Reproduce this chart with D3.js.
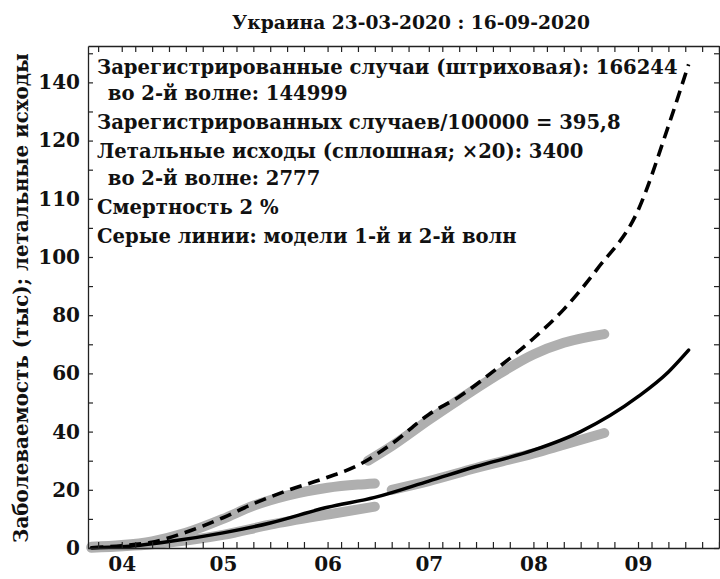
<!DOCTYPE html>
<html><head><meta charset="utf-8">
<script src="https://cdn.jsdelivr.net/npm/d3@7"></script>
<style>
body{margin:0;background:#fff}
svg{display:block}
text{font-family:"DejaVu Serif",serif;font-weight:bold;fill:#111}
</style>
</head><body><svg id="c" width="720" height="579"></svg>
<script>
const title = "Украина 23-03-2020 : 16-09-2020";
const yAxisTitle = "Заболеваемость (тыс); летальные исходы";
const legendLines = [
  "Зарегистрированные случаи (штриховая): 166244",
  " во 2-й волне: 144999",
  "Зарегистрированных случаев/100000 = 395,8",
  "Летальные исходы (сплошная; ×20): 3400",
  " во 2-й волне: 2777",
  "Смертность 2 %",
  "Серые линии: модели 1-й и 2-й волн"
];
const legendIndent = [0, 1, 0, 0, 1, 0, 0];
const yTickValues = [0, 20, 40, 60, 80, 100, 120, 140, 160];
const yTickLabels = ["0", "20", "40", "60", "80", "100", "110", "120", "140"];
const monthStarts = ["2020-04-01", "2020-05-01", "2020-06-01", "2020-07-01", "2020-08-01", "2020-09-01"];
const monthLabels = ["04", "05", "06", "07", "08", "09"];

// registered cases, thousands (dashed)
const casesDates = ["2020-03-23","2020-04-01","2020-04-10","2020-04-20","2020-05-01","2020-05-10","2020-05-20","2020-06-01","2020-06-10","2020-06-20","2020-07-01","2020-07-10","2020-07-20","2020-08-01","2020-08-10","2020-08-20","2020-09-01","2020-09-10","2020-09-16"];
const casesValues = [0.1, 0.8, 2.0, 5.4, 10.4, 15.2, 19.7, 24.3, 28.4, 35.8, 45.9, 52.0, 60.6, 72.0, 82.0, 96.0, 116.0, 145.0, 166.2];
// deaths x20, thousands (solid)
const deathsDates = ["2020-03-23","2020-04-01","2020-04-15","2020-05-01","2020-05-15","2020-06-01","2020-06-15","2020-07-01","2020-07-15","2020-08-01","2020-08-15","2020-09-01","2020-09-10","2020-09-16"];
const deathsValues = [0.1, 0.4, 2.2, 5.2, 8.6, 14.0, 17.4, 23.0, 28.0, 33.6, 40.0, 52.0, 60.5, 68.0];
// model curves (grey)
const model1CasesDates = ["2020-03-23","2020-04-01","2020-04-10","2020-04-20","2020-05-01","2020-05-10","2020-05-20","2020-06-01","2020-06-10","2020-06-15"];
const model1CasesValues = [0.4, 1.0, 2.3, 5.2, 10.0, 14.5, 18.0, 20.7, 21.8, 22.2];
const model1DeathsDates = ["2020-03-23","2020-04-10","2020-05-01","2020-05-15","2020-06-01","2020-06-15"];
const model1DeathsValues = [0.1, 1.3, 4.5, 8.0, 11.5, 14.2];
const model2CasesDates = ["2020-06-13","2020-06-20","2020-07-01","2020-07-10","2020-07-20","2020-08-01","2020-08-10","2020-08-22"];
const model2CasesValues = [30.0, 35.0, 44.0, 51.0, 58.5, 66.5, 70.5, 73.5];
const model2DeathsDates = ["2020-06-20","2020-07-01","2020-07-15","2020-08-01","2020-08-10","2020-08-22"];
const model2DeathsValues = [20.0, 23.0, 27.5, 32.5, 35.5, 39.5];

const parse = d3.timeParse("%Y-%m-%d");
const svg = d3.select("#c");
const L = 88, R = 719, T = 46, B = 548;
const x = d3.scaleTime().domain([parse("2020-03-22"), parse("2020-09-25")]).range([L, R]);
const y = d3.scaleLinear().domain([0, 172.5]).range([B, T]);

const zip = (ds, vs) => ds.map((d, i) => ({d: parse(d), v: vs[i]}));
const line = d3.line().x(p => x(p.d)).y(p => y(p.v)).curve(d3.curveMonotoneX);

// grey models
const grey = "#afafaf";
[[model1CasesDates, model1CasesValues],[model1DeathsDates, model1DeathsValues],
 [model2CasesDates, model2CasesValues],[model2DeathsDates, model2DeathsValues]].forEach(([ds, vs]) => {
  svg.append("path").attr("d", line(zip(ds, vs))).attr("fill", "none")
    .attr("stroke", grey).attr("stroke-width", 10).attr("stroke-linecap", "round");
});
svg.append("path").attr("d", line(zip(deathsDates, deathsValues))).attr("fill", "none")
  .attr("stroke", "#000").attr("stroke-width", 3.5).attr("stroke-linecap", "round");
svg.append("path").attr("d", line(zip(casesDates, casesValues))).attr("fill", "none")
  .attr("stroke", "#000").attr("stroke-width", 3.6).attr("stroke-dasharray", "12,7");

// ticks: month starts and days 5,10,15,20,25
const xTicks = [];
for (let m = 2; m <= 8; m++) {
  [1,5,10,15,20,25].forEach(dd => {
    const dt = new Date(2020, m, dd);
    if (dt >= x.domain()[0] && dt <= x.domain()[1]) xTicks.push(dt);
  });
}
const yMinor = d3.range(0, 171, 10);

function styleAxis(g) {
  g.select(".domain").attr("stroke", "#222").attr("stroke-width", 1.3);
  g.selectAll(".tick line").attr("stroke", "#222").attr("stroke-width", 1.2);
}
svg.append("g").attr("transform", `translate(0,${B})`)
  .call(d3.axisBottom(x).tickValues(xTicks).tickSize(-6).tickSizeOuter(0).tickFormat(""))
  .call(styleAxis);
svg.append("g").attr("transform", `translate(0,${T})`)
  .call(d3.axisTop(x).tickValues(xTicks).tickSize(-6).tickSizeOuter(0).tickFormat(""))
  .call(styleAxis);
svg.append("g").attr("transform", `translate(${L},0)`)
  .call(d3.axisLeft(y).tickValues(yMinor).tickSize(-5).tickSizeOuter(0).tickFormat(""))
  .call(styleAxis);
svg.append("g").attr("transform", `translate(${R},0)`)
  .call(d3.axisRight(y).tickValues(yMinor).tickSize(-5).tickSizeOuter(0).tickFormat(""))
  .call(styleAxis);

// labels
const gyl = svg.append("g").attr("transform", `translate(${L},0)`)
  .call(d3.axisLeft(y).tickValues(yTickValues).tickSize(0).tickPadding(8)
    .tickFormat((d, i) => yTickLabels[i]));
gyl.select(".domain").remove();
gyl.selectAll("text").attr("font-size", 20).attr("font-family", "DejaVu Serif").attr("fill", "#111");

const gxl = svg.append("g").attr("transform", `translate(0,${B})`)
  .call(d3.axisBottom(x).tickValues(monthStarts.map(parse)).tickSize(0).tickPadding(9)
    .tickFormat((d, i) => monthLabels[i]));
gxl.select(".domain").remove();
gxl.selectAll("text").attr("font-size", 20).attr("font-family", "DejaVu Serif").attr("fill", "#111");

// fit a text element's font size to a target width
function fitSize(sel, target) {
  sel.attr("font-size", 20);
  const w = sel.node().getComputedTextLength();
  const fs = 20 * target / w;
  sel.attr("font-size", fs);
  return fs;
}

const t = svg.append("text").attr("x", 411).attr("y", 29).attr("text-anchor", "middle").text(title);
fitSize(t, 358);

const yt = svg.append("text").attr("transform", "translate(28,298) rotate(-90)").attr("text-anchor", "middle").text(yAxisTitle);
fitSize(yt, 490);

const legBase = [74, 100, 129, 158, 185, 214, 243];
const leg = svg.append("g").selectAll("text").data(legendLines).join("text")
  .attr("x", (d, i) => 97 + legendIndent[i] * 4)
  .attr("y", (d, i) => legBase[i])
  .attr("xml:space", "preserve")
  .style("white-space", "pre")
  .text(d => d);
const legFs = fitSize(d3.select(leg.nodes()[0]), 581);
leg.attr("font-size", legFs);
</script></body></html>
